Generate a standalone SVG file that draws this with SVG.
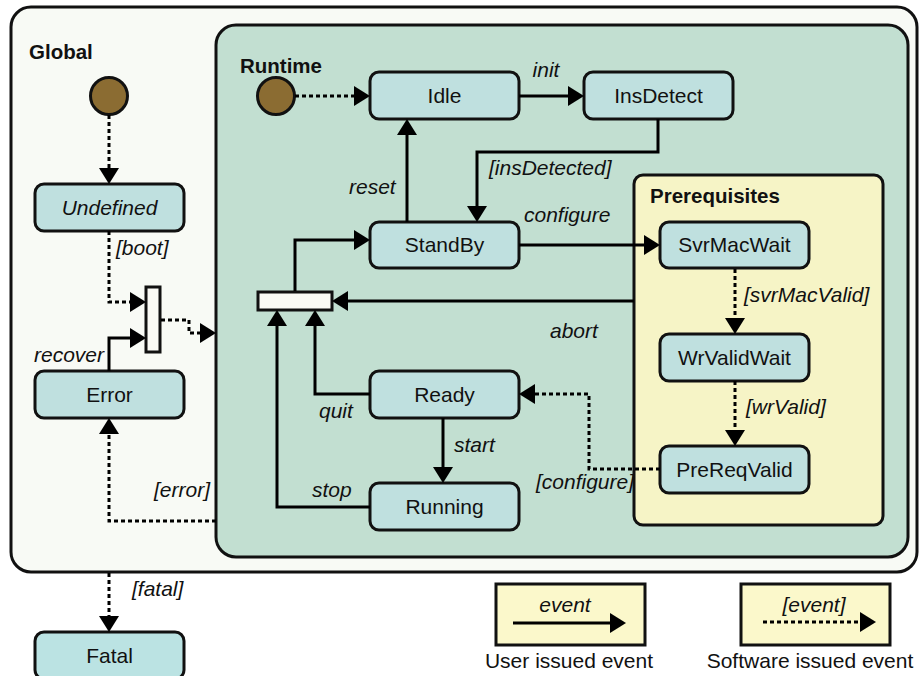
<svg xmlns="http://www.w3.org/2000/svg" width="919" height="676" viewBox="0 0 919 676">
<style>
  text { font-family: "Liberation Sans", Arial, sans-serif; font-size: 21px; fill: #111; }
  .lbl { font-style: italic; }
  .title { font-weight: bold; font-size: 20.5px; }
  .mid { text-anchor: middle; }
  .node rect { fill: #bfe0df; stroke: #111; stroke-width: 3; }
  .con path { fill: none; stroke: #000; stroke-width: 3; marker-end: url(#arr); }
  .con path.dot, path.dot { stroke-dasharray: 4 3; }
  .bar { fill: #fafaf5; stroke: #111; stroke-width: 3; }
  .init circle { fill: #8b6c32; stroke: #111; stroke-width: 3; }
</style>
<defs>
  <marker id="arr" markerUnits="userSpaceOnUse" markerWidth="16" markerHeight="20" refX="6" refY="10" orient="auto">
    <path d="M0,0 L16,10 L0,20 z" fill="#000"/>
  </marker>
</defs>

<g id="global">
  <rect x="11" y="7" width="906" height="565" rx="20" fill="#f8faf5" stroke="#111" stroke-width="3"/>
  <text class="title" x="29" y="59">Global</text>
</g>
<g id="runtime">
  <rect x="216" y="25" width="692" height="532" rx="20" fill="#c2dfd1" stroke="#111" stroke-width="3"/>
  <text class="title" x="240" y="73">Runtime</text>
</g>
<g id="prerequisites">
  <rect x="634" y="175" width="249" height="350" rx="9" fill="#f6f4c6" stroke="#111" stroke-width="3"/>
  <text class="title" x="650" y="203">Prerequisites</text>
</g>

<g id="global-init" class="init"><circle cx="109" cy="96" r="18.5"/></g>
<g id="runtime-init" class="init"><circle cx="276" cy="96" r="18.5"/></g>

<g id="global-join"><rect class="bar" x="146" y="287" width="14" height="65"/></g>
<g id="runtime-join"><rect class="bar" x="258" y="292" width="74" height="18"/></g>

<g id="undefined" class="node"><rect x="35" y="184" width="149" height="47" rx="9"/><text class="mid lbl" x="109.5" y="215">Undefined</text></g>
<g id="error" class="node"><rect x="35" y="371" width="149" height="47" rx="9"/><text class="mid" x="109.5" y="402">Error</text></g>
<g id="fatal" class="node"><rect x="35" y="632" width="149" height="47" rx="9" style="fill:#bbe3e3"/><text class="mid" x="109.5" y="663">Fatal</text></g>
<g id="idle" class="node"><rect x="370" y="72" width="149" height="47" rx="9"/><text class="mid" x="444.5" y="103">Idle</text></g>
<g id="insdetect" class="node"><rect x="584" y="72" width="149" height="47" rx="9"/><text class="mid" x="658.5" y="103">InsDetect</text></g>
<g id="standby" class="node"><rect x="370" y="222" width="149" height="46" rx="9"/><text class="mid" x="444.5" y="252">StandBy</text></g>
<g id="ready" class="node"><rect x="370" y="371" width="149" height="47" rx="9"/><text class="mid" x="444.5" y="402">Ready</text></g>
<g id="running" class="node"><rect x="370" y="483" width="149" height="47" rx="9"/><text class="mid" x="444.5" y="514">Running</text></g>
<g id="svrmacwait" class="node"><rect x="660" y="222" width="149" height="46" rx="9"/><text class="mid" x="734.5" y="252">SvrMacWait</text></g>
<g id="wrvalidwait" class="node"><rect x="660" y="334" width="149" height="47" rx="9"/><text class="mid" x="734.5" y="365">WrValidWait</text></g>
<g id="prereqvalid" class="node"><rect x="660" y="446" width="149" height="47" rx="9"/><text class="mid" x="734.5" y="477">PreReqValid</text></g>

<g id="connectors" class="con">
  <path class="dot" d="M109,115 V174"/>
  <path class="dot" d="M109,231 V302 H136"/>
  <path d="M109,371 V338 H136"/>
  <path class="dot" d="M161,320 H189 V333 H206"/>
  <path class="dot" d="M216,521 H109 V428"/>
  <path class="dot" d="M109,573 V622"/>
  <path class="dot" d="M295,96 H360"/>
  <path d="M519,96 H574"/>
  <path d="M658,119 V152 H477 V212"/>
  <path d="M407,222 V129"/>
  <path d="M519,245 H650"/>
  <path d="M634,301 H342"/>
  <path d="M295,291 V240 H360"/>
  <path d="M370,394 H315 V320"/>
  <path d="M370,507 H277 V320"/>
  <path d="M443,418 V473"/>
  <path class="dot" d="M735,269 V324"/>
  <path class="dot" d="M735,381 V436"/>
  <path class="dot" d="M660,469 H589 V394 H529"/>
</g>

<g id="labels" class="lbl">
  <text class="lbl" x="116" y="255">[boot]</text>
  <text class="lbl" x="34" y="362">recover</text>
  <text class="lbl" x="154" y="497">[error]</text>
  <text class="lbl" x="132" y="596">[fatal]</text>
  <text class="lbl mid" x="546" y="77">init</text>
  <text class="lbl" x="489" y="175">[insDetected]</text>
  <text class="lbl" x="349" y="194">reset</text>
  <text class="lbl" x="524" y="222">configure</text>
  <text class="lbl" x="744" y="302">[svrMacValid]</text>
  <text class="lbl" x="550" y="338">abort</text>
  <text class="lbl" x="746" y="414">[wrValid]</text>
  <text class="lbl" x="536" y="489">[configure]</text>
  <text class="lbl" x="319" y="418">quit</text>
  <text class="lbl" x="454" y="452">start</text>
  <text class="lbl" x="312" y="497">stop</text>
</g>

<g id="legend-user">
  <rect x="496" y="584" width="149" height="61" fill="#fbf8cb" stroke="#111" stroke-width="3"/>
  <text class="lbl mid" x="565" y="612">event</text>
  <path d="M513,623 H616" fill="none" stroke="#000" stroke-width="3" marker-end="url(#arr)"/>
  <text class="mid" x="569" y="668">User issued event</text>
</g>
<g id="legend-software">
  <rect x="741" y="584" width="149" height="61" fill="#fbf8cb" stroke="#111" stroke-width="3"/>
  <text class="lbl mid" x="814" y="612">[event]</text>
  <path class="dot" d="M763,622 H866" fill="none" stroke="#000" stroke-width="3" marker-end="url(#arr)"/>
  <text class="mid" x="810" y="668">Software issued event</text>
</g>
</svg>
